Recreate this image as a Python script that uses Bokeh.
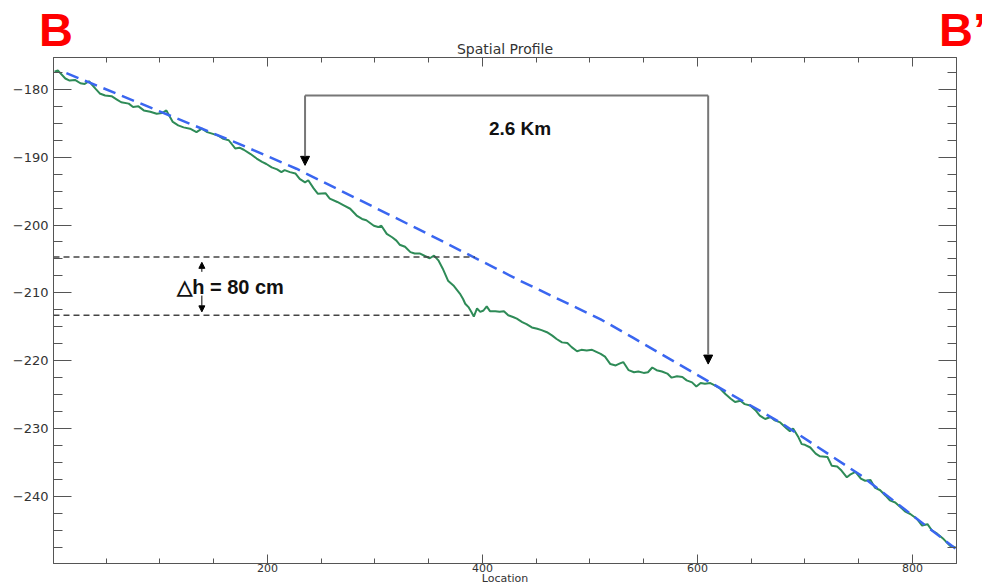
from bokeh.plotting import figure
from bokeh.layouts import column
from bokeh.models import (LinearAxis, SingleIntervalTicker, Range1d, Label, Arrow,
                          NormalHead, CustomJSTickFormatter, Div)
from bokeh.embed import file_html
from bokeh.resources import INLINE

# ---------------- data ----------------
green_x = [2, 5, 12, 16, 21, 26, 30, 34, 40, 44, 49, 55, 60, 64, 71, 75, 80, 85, 91, 97,
           102, 106, 112, 117, 122, 128, 134, 139, 144, 150, 154, 159, 164, 170, 174, 178,
           184, 190, 195, 199, 204, 209, 213, 216, 221, 226, 230, 235, 238, 243, 247, 254,
           258, 265, 271, 277, 283, 288, 292, 299, 303, 306, 311, 316, 320, 323, 328, 333,
           337, 342, 347, 351, 355, 359, 363, 368, 373, 379, 382, 384, 387, 390, 392, 395,
           398, 401, 404, 407, 412, 416, 420, 424, 429, 432, 437, 441, 446, 451, 455, 460,
           465, 469, 474, 479, 483, 488, 492, 497, 502, 506, 510, 514, 519, 524, 528, 531,
           536, 541, 545, 550, 554, 558, 562, 567, 572, 576, 581, 586, 590, 595, 599, 603,
           607, 612, 617, 621, 626, 631, 635, 640, 644, 649, 654, 658, 663, 668, 672, 677,
           683, 686, 689, 694, 697, 700, 705, 710, 714, 721, 725, 730, 734, 739, 742, 747,
           752, 756, 761, 765, 770, 775, 779, 784, 789, 793, 798, 804, 809, 814, 818, 823,
           829, 835, 840]
green_y = [-177.4, -177.2, -178.4, -178.7, -178.6, -179.1, -179.2, -178.8, -179.9, -180.6,
           -180.9, -181.0, -181.5, -181.9, -182.1, -182.6, -182.5, -183.1, -183.3, -183.6,
           -183.5, -183.1, -184.8, -185.3, -185.6, -185.8, -186.3, -185.8, -186.3, -186.6,
           -186.8, -187.3, -187.5, -188.7, -188.6, -188.9, -189.5, -190.2, -190.7, -191.0,
           -191.5, -191.8, -192.2, -191.9, -192.2, -192.4, -193.2, -193.7, -193.4, -194.6,
           -195.4, -195.3, -196.1, -196.6, -197.1, -197.6, -198.6, -199.1, -199.3, -200.1,
           -200.3, -200.1, -201.3, -201.8, -202.3, -202.9, -203.2, -204.0, -204.2, -204.2,
           -204.6, -204.9, -204.5, -205.2, -206.4, -208.2, -208.9, -210.1, -210.9, -211.6,
           -212.1, -212.9, -213.5, -212.3, -212.8, -212.6, -212.0, -212.7, -212.7, -212.8,
           -212.7, -213.3, -213.6, -213.8, -214.3, -214.6, -215.1, -215.3, -215.5, -215.8,
           -216.3, -216.8, -217.3, -217.4, -218.0, -218.6, -218.4, -218.5, -218.4, -218.7,
           -219.0, -219.4, -220.5, -220.7, -220.4, -220.2, -221.4, -221.7, -221.6, -221.8,
           -221.7, -221.0, -221.4, -221.6, -221.9, -222.5, -222.3, -222.4, -222.9, -223.2,
           -223.8, -223.3, -223.4, -223.3, -223.7, -224.1, -224.9, -225.6, -226.1, -225.9,
           -226.4, -226.6, -227.3, -228.1, -228.6, -228.3, -228.8, -229.1, -230.0, -230.4,
           -230.0, -231.3, -232.3, -232.4, -232.8, -233.7, -234.1, -234.2, -235.5, -235.6,
           -236.2, -237.2, -236.8, -236.4, -237.4, -237.7, -237.6, -238.7, -239.1, -239.9,
           -240.6, -240.9, -241.6, -242.2, -242.6, -243.3, -244.3, -244.1, -245.0, -245.5,
           -246.3, -247.3, -247.5]

fit_x = [13, 173, 227, 339, 435, 510, 540, 614, 677, 752, 840]
fit_y = [-177.6, -188.0, -191.7, -200.5, -208.2, -213.9, -216.6, -223.4, -229.1, -236.9, -247.7]

x_ticks = [200, 400, 600, 800]
y_ticks = [-180, -190, -200, -210, -220, -230, -240]

dh_levels = [-204.7, -213.3]      # the two dashed levels
dh_ends = [393, 391]              # where each dashed level stops
dh_x = 139                        # x of the small double arrow
dh_up = [-206.9, -205.5]
dh_down = [-210.4, -212.8]

span_x = [235, 610]               # the 2.6 km bracket
span_top = -180.9
span_tips = [-191.2, -220.5]

HEAD_H = 52       # height of the letter strip
OVERLAP = 14      # the chart starts this much higher (transparent border)
W = 982

# ---------------- header strip with the section letters ----------------
letter_style = ("position:absolute;top:10px;font-family:'Liberation Sans',Arial,sans-serif;"
                "font-weight:bold;font-size:47px;line-height:40px;color:#ff0000;"
                "white-space:nowrap;")
head = Div(text=('<div style="position:relative;width:982px;height:52px;overflow:hidden;">'
                 f'<span style="{letter_style}left:39px;">B</span>'
                 f'<span style="{letter_style}left:939px;">B\u2019</span>'
                 '</div>'),
           width=W, height=HEAD_H, margin=(0, 0, -OVERLAP, 0))

# ---------------- main chart ----------------
p = figure(width=W, height=587 - HEAD_H + OVERLAP, x_range=Range1d(1, 841),
           y_range=Range1d(-249.9, -175.3), title="Spatial Profile",
           x_axis_type=None, y_axis_type=None, output_backend="svg", toolbar_location=None,
           min_border_left=53, min_border_right=26, min_border_top=19, min_border_bottom=24,
           background_fill_color="white", border_fill_color="white", border_fill_alpha=0,
           outline_line_color="#555555")
p.title.align = "center"
p.title.text_font = "DejaVu Sans"
p.title.text_font_style = "normal"
p.title.text_font_size = "14px"
p.title.text_color = "#333333"
p.title.standoff = 1

AX = "#555555"


def axis(interval, major_in, minor_in, labels=None, size="11px", standoff=4):
    ax = LinearAxis(ticker=SingleIntervalTicker(interval=interval, num_minor_ticks=4),
                    major_tick_in=major_in, major_tick_out=0,
                    minor_tick_in=minor_in, minor_tick_out=0,
                    axis_line_color=AX, major_tick_line_color=AX, minor_tick_line_color=AX,
                    major_label_text_font="DejaVu Sans", major_label_text_font_size=size,
                    major_label_text_color="#333333", major_label_standoff=standoff)
    if labels is None:
        ax.formatter = CustomJSTickFormatter(code="return ''")
        ax.major_label_standoff = 0
        ax.major_label_text_font_size = "0px"
    else:
        ax.major_label_overrides = labels
    return ax


x_labels = {v: str(v) for v in x_ticks}
y_labels = {v: "\u2212" + str(abs(v)) for v in y_ticks}

xb = axis(200, 9, 5, x_labels, "11px", 0)
xb.axis_label = "Location"
xb.axis_label_standoff = -3
xb.axis_label_text_font = "DejaVu Sans"
xb.axis_label_text_font_size = "11px"
xb.axis_label_text_font_style = "normal"
xb.axis_label_text_color = "#333333"
p.add_layout(xb, "below")
p.add_layout(axis(200, 9, 5), "above")
p.add_layout(axis(10, 18, 9, y_labels, "13px", 5), "left")
p.add_layout(axis(10, 18, 9), "right")

# profile and fitted curve
p.line(green_x, green_y, line_color="#2e8b57", line_width=2)
p.line(fit_x, fit_y, line_color="#3a66f0", line_width=2.5, line_dash="13 7")

# dashed levels
p.segment(x0=[1, 1], y0=dh_levels, x1=dh_ends, y1=dh_levels,
          line_color="#444444", line_width=1.5, line_dash="6 4")

# small double arrow
for ys in (dh_up, dh_down):
    p.add_layout(Arrow(end=NormalHead(size=6, fill_color="black", line_color="black"),
                       x_start=dh_x, y_start=ys[0], x_end=dh_x, y_end=ys[1],
                       line_color="black", line_width=1))

# 2.6 km bracket
p.line([span_x[0], span_x[1]], [span_top, span_top], line_color="#777777", line_width=2)
for sx, tip in zip(span_x, span_tips):
    p.add_layout(Arrow(end=NormalHead(size=9, fill_color="black", line_color="black"),
                       x_start=sx, y_start=span_top, x_end=sx, y_end=tip,
                       line_color="#777777", line_width=2))

p.add_layout(Label(x=435, y=-185.8, text="2.6 Km", text_align="center",
                   text_baseline="middle", text_font="Liberation Sans",
                   text_font_style="bold", text_font_size="19px", text_color="#111111"))
p.add_layout(Label(x=116, y=-209.2, text="\u25b3h = 80 cm", text_align="left",
                   text_baseline="middle", text_font="Liberation Sans",
                   text_font_style="bold", text_font_size="20px", text_color="#111111"))

page = column(head, p, spacing=0)
open("out.html", "w").write(file_html(page, INLINE))
